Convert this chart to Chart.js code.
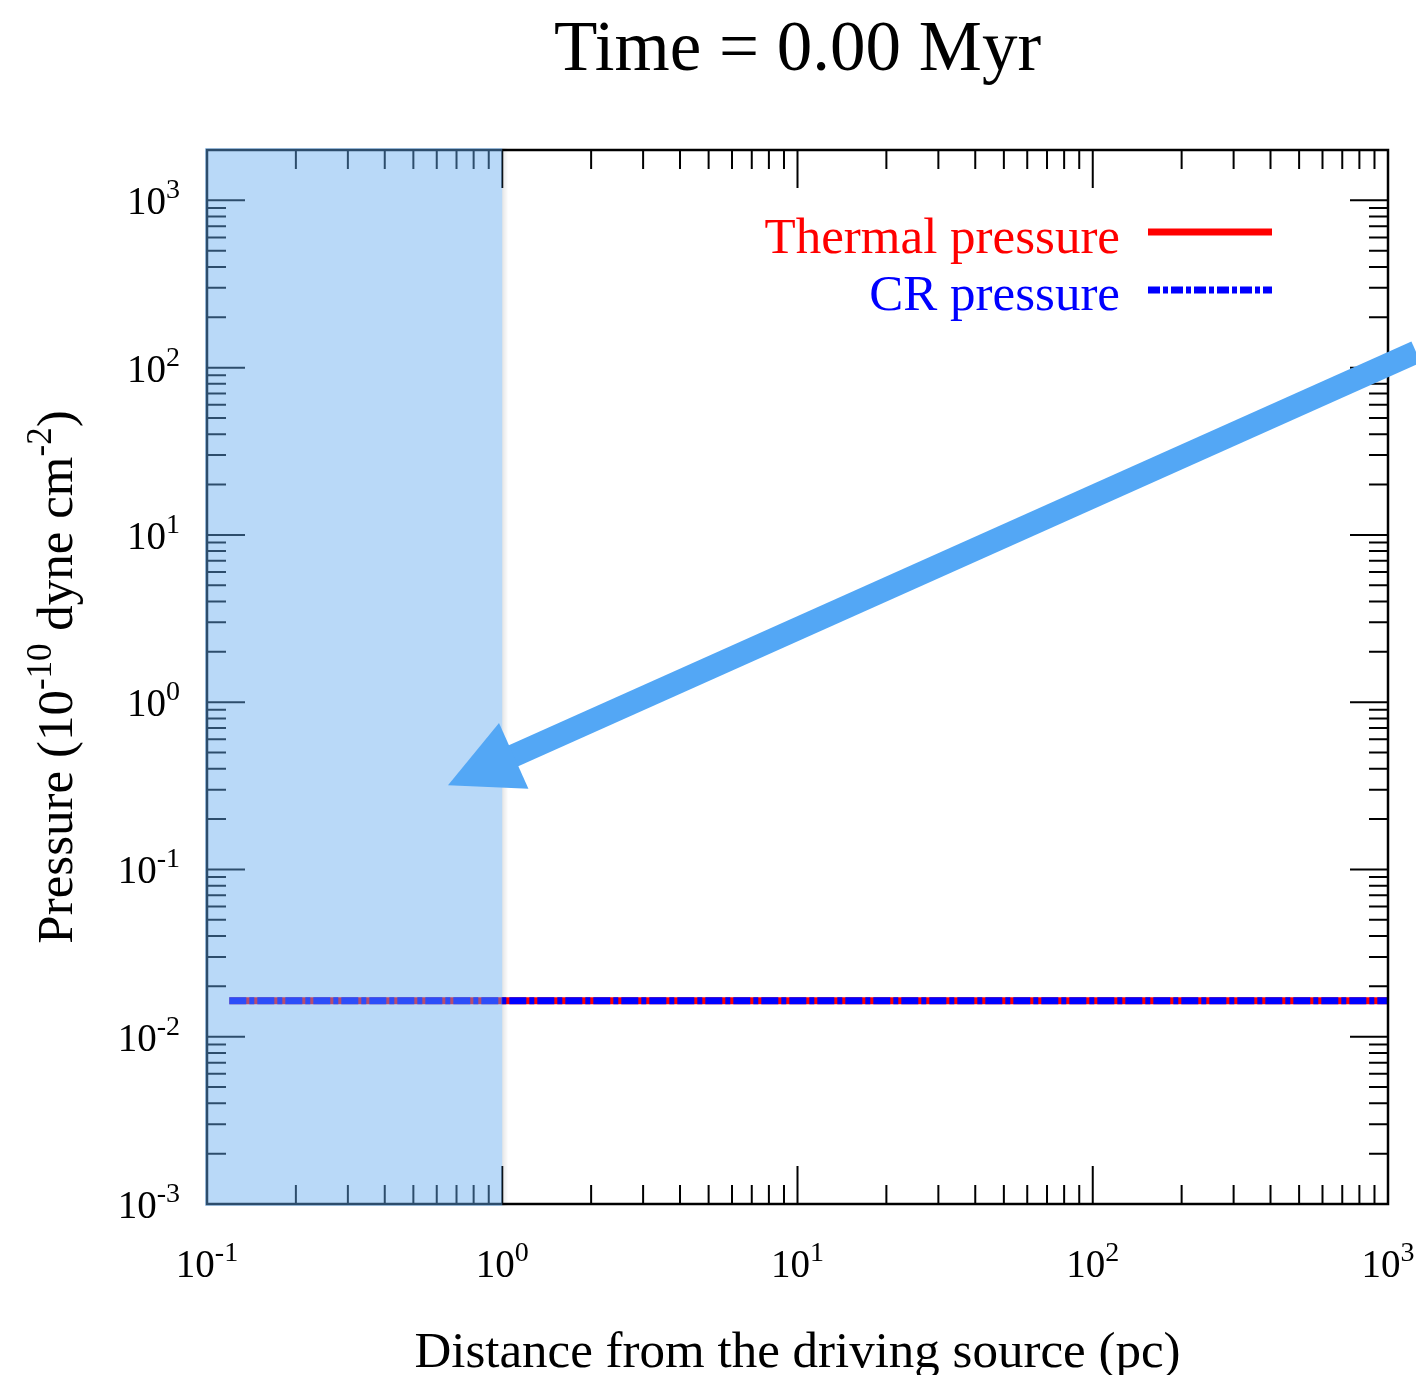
<!DOCTYPE html>
<html>
<head>
<meta charset="utf-8">
<script src="https://cdn.jsdelivr.net/npm/chart.js@4.4.0/dist/chart.umd.min.js"></script>
<style>
  html, body { margin: 0; padding: 0; background: #fff; }
</style>
</head>
<body>
<canvas id="chart" width="1416" height="1375"></canvas>
<script>
// profile values (pc, 1e-10 dyne cm^-2)
const distance = [0.119, 0.2, 0.5, 1, 2, 5, 10, 20, 50, 100, 200, 500, 1000];
const thermalPressure = [0.0164, 0.0164, 0.0164, 0.0164, 0.0164, 0.0164, 0.0164, 0.0164, 0.0164, 0.0164, 0.0164, 0.0164, 0.0164];
const crPressure = [0.0164, 0.0164, 0.0164, 0.0164, 0.0164, 0.0164, 0.0164, 0.0164, 0.0164, 0.0164, 0.0164, 0.0164, 0.0164];

const xTicks = [0.1, 1, 10, 100, 1000];
const xTickExp = ['-1', '0', '1', '2', '3'];
const yTicks = [0.001, 0.01, 0.1, 1, 10, 100, 1000];
const yTickExp = ['-3', '-2', '-1', '0', '1', '2', '3'];

// highlighted region and arrow, in data units
const shadedRange = [0.1, 1];
const arrowTail = [1245, 124];
const arrowTip = [0.655, 0.319];

const SERIF = '"Liberation Serif", "Times New Roman", serif';

function minorTicks(lo, hi) {
  const out = [];
  for (let d = lo; d < hi; d++) {
    for (let m = 2; m <= 9; m++) out.push(m * Math.pow(10, d));
  }
  return out;
}

// draw "10" with a raised exponent
function drawPow(ctx, exp, x, y, align, size, supSize, rise) {
  ctx.font = size + 'px ' + SERIF;
  const wb = ctx.measureText('10').width;
  ctx.font = supSize + 'px ' + SERIF;
  const ws = ctx.measureText(exp).width;
  let x0 = x;
  if (align === 'right') x0 = x - wb - ws;
  else if (align === 'center') x0 = x - (wb + ws) / 2;
  ctx.textAlign = 'left';
  ctx.textBaseline = 'alphabetic';
  ctx.font = size + 'px ' + SERIF;
  ctx.fillText('10', x0, y);
  ctx.font = supSize + 'px ' + SERIF;
  ctx.fillText(exp, x0 + wb, y - rise);
}

function drawRuns(ctx, runs, x, y) {
  // runs: [text, size, rise]
  let total = 0;
  runs.forEach(r => { ctx.font = r[1] + 'px ' + SERIF; total += ctx.measureText(r[0]).width; });
  let cx = x - total / 2;
  ctx.textAlign = 'left';
  ctx.textBaseline = 'alphabetic';
  runs.forEach(r => {
    ctx.font = r[1] + 'px ' + SERIF;
    ctx.fillText(r[0], cx, y - r[2]);
    cx += ctx.measureText(r[0]).width;
  });
}

const framePlugin = {
  id: 'frame',
  afterDatasetsDraw(chart) {
    const ctx = chart.ctx;
    const area = chart.chartArea;
    const xs = chart.scales.x;
    const ys = chart.scales.y;
    ctx.save();

    // ticks on all four sides, pointing inward
    ctx.strokeStyle = '#000';
    ctx.lineWidth = 2;
    const majorLen = 38, minorLen = 19;
    const xMinor = minorTicks(-1, 3);
    const yMinor = minorTicks(-3, 3);
    ctx.beginPath();
    xTicks.forEach(v => {
      const px = xs.getPixelForValue(v);
      ctx.moveTo(px, area.bottom); ctx.lineTo(px, area.bottom - majorLen);
      ctx.moveTo(px, area.top); ctx.lineTo(px, area.top + majorLen);
    });
    xMinor.forEach(v => {
      const px = xs.getPixelForValue(v);
      ctx.moveTo(px, area.bottom); ctx.lineTo(px, area.bottom - minorLen);
      ctx.moveTo(px, area.top); ctx.lineTo(px, area.top + minorLen);
    });
    yTicks.forEach(v => {
      const py = ys.getPixelForValue(v);
      ctx.moveTo(area.left, py); ctx.lineTo(area.left + majorLen, py);
      ctx.moveTo(area.right, py); ctx.lineTo(area.right - majorLen, py);
    });
    yMinor.forEach(v => {
      const py = ys.getPixelForValue(v);
      ctx.moveTo(area.left, py); ctx.lineTo(area.left + minorLen, py);
      ctx.moveTo(area.right, py); ctx.lineTo(area.right - minorLen, py);
    });
    ctx.stroke();

    ctx.lineWidth = 2.5;
    ctx.strokeRect(area.left, area.top, area.right - area.left, area.bottom - area.top);

    // tick labels
    ctx.fillStyle = '#000';
    xTicks.forEach((v, i) => {
      drawPow(ctx, xTickExp[i], xs.getPixelForValue(v), area.bottom + 73, 'center', 39, 28, 16);
    });
    yTicks.forEach((v, i) => {
      drawPow(ctx, yTickExp[i], area.left - 27, ys.getPixelForValue(v) + 14, 'right', 39, 28, 16);
    });

    // axis titles
    ctx.font = '51px ' + SERIF;
    ctx.textAlign = 'center';
    ctx.fillText('Distance from the driving source (pc)', (area.left + area.right) / 2, 1367);

    ctx.save();
    ctx.translate(72, (area.top + area.bottom) / 2);
    ctx.rotate(-Math.PI / 2);
    drawRuns(ctx, [
      ['Pressure (10', 51, 0],
      ['-10', 35, 21],
      [' dyne cm', 51, 0],
      ['-2', 35, 21],
      [')', 51, 0]
    ], 0, 0);
    ctx.restore();

    // chart title
    ctx.font = '71px ' + SERIF;
    ctx.textAlign = 'center';
    ctx.fillText('Time = 0.00 Myr', (area.left + area.right) / 2, 70);

    // highlighted region over axes and curves
    const sx0 = xs.getPixelForValue(shadedRange[0]) - 2;
    const sx1 = xs.getPixelForValue(shadedRange[1]);
    ctx.fillStyle = 'rgba(100, 170, 240, 0.45)';
    ctx.fillRect(sx0, area.top - 2, sx1 - sx0, area.bottom - area.top + 4);
    const g = ctx.createLinearGradient(sx1, 0, sx1 + 6, 0);
    g.addColorStop(0, 'rgba(0,0,0,0.10)');
    g.addColorStop(1, 'rgba(0,0,0,0)');
    ctx.fillStyle = g;
    ctx.fillRect(sx1, area.top - 2, 6, area.bottom - area.top + 4);

    // arrow
    const tx = xs.getPixelForValue(arrowTail[0]), ty = ys.getPixelForValue(arrowTail[1]);
    const hx = xs.getPixelForValue(arrowTip[0]), hy = ys.getPixelForValue(arrowTip[1]);
    const len = Math.hypot(hx - tx, hy - ty);
    const ux = (hx - tx) / len, uy = (hy - ty) / len;
    const headLen = 72, headHalf = 36;
    const bx = hx - ux * headLen, by = hy - uy * headLen;
    ctx.strokeStyle = '#53a7f5';
    ctx.fillStyle = '#53a7f5';
    ctx.lineWidth = 23;
    ctx.lineCap = 'butt';
    ctx.beginPath();
    ctx.moveTo(tx, ty);
    ctx.lineTo(bx + ux * 2, by + uy * 2);
    ctx.stroke();
    ctx.beginPath();
    ctx.moveTo(hx, hy);
    ctx.lineTo(bx - uy * headHalf, by + ux * headHalf);
    ctx.lineTo(bx + uy * headHalf, by - ux * headHalf);
    ctx.closePath();
    ctx.fill();

    // legend: text then sample line
    ctx.font = '51px ' + SERIF;
    ctx.textAlign = 'right';
    ctx.fillStyle = '#ff0000';
    ctx.fillText('Thermal pressure', 1120, 253);
    ctx.fillStyle = '#0000ff';
    ctx.fillText('CR pressure', 1120, 310);
    ctx.lineWidth = 7;
    ctx.strokeStyle = '#ff0000';
    ctx.beginPath(); ctx.moveTo(1148, 232); ctx.lineTo(1272, 232); ctx.stroke();
    ctx.strokeStyle = '#0000ff';
    ctx.setLineDash([12, 3, 5, 3]);
    ctx.beginPath(); ctx.moveTo(1148, 290); ctx.lineTo(1272, 290); ctx.stroke();
    ctx.setLineDash([]);

    ctx.restore();
  }
};

const toPoints = (xv, yv) => xv.map((x, i) => ({ x: x, y: yv[i] }));

new Chart(document.getElementById('chart'), {
  type: 'line',
  data: {
    datasets: [
      {
        label: 'CR pressure',
        data: toPoints(distance, crPressure),
        borderColor: '#0000ff',
        borderWidth: 7,
        borderDash: [17, 3, 5, 3],
        borderCapStyle: 'butt',
        pointRadius: 0,
        order: 0
      },
      {
        label: 'Thermal pressure',
        data: toPoints(distance, thermalPressure),
        borderColor: '#ff0000',
        borderWidth: 7,
        borderCapStyle: 'butt',
        pointRadius: 0,
        order: 1
      }
    ]
  },
  options: {
    responsive: false,
    animation: false,
    devicePixelRatio: 1,
    layout: { padding: { left: 207, right: 28, top: 150, bottom: 171 } },
    plugins: { legend: { display: false }, tooltip: { enabled: false } },
    scales: {
      x: { type: 'logarithmic', min: 0.1, max: 1000, display: false },
      y: { type: 'logarithmic', min: 0.001, max: 2000, display: false }
    }
  },
  plugins: [framePlugin]
});
</script>
</body>
</html>
